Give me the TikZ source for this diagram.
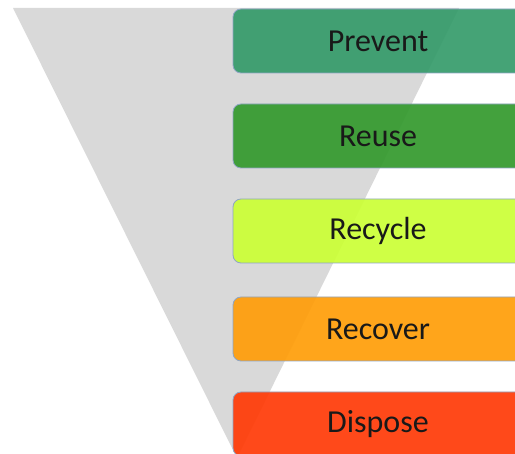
\documentclass[tikz,border=0pt]{standalone}
\usepackage{fontspec}
\setmainfont{Carlito}
\definecolor{preventgreen}{HTML}{359B6A}
\definecolor{reusegreen}{HTML}{33992D}
\definecolor{recyclelime}{HTML}{CBFF35}
\definecolor{recoverorange}{HTML}{FF9D08}
\definecolor{disposered}{HTML}{FF3A06}
\definecolor{boxedge}{HTML}{8FA5C4}
\definecolor{funnelgray}{HTML}{D9D9D9}
\tikzset{
  stage/.style={draw=boxedge, line width=0.8pt, rounded corners=8pt,
    fill opacity=0.92, text opacity=1,
    minimum width=290pt, minimum height=64pt, inner sep=0pt,
    font=\fontsize{32}{36}\selectfont, text=black!90},
}
\begin{document}
\begin{tikzpicture}[x=1pt,y=-1pt]
        \useasboundingbox (0,0) rectangle (515,454);
        \clip (0,0) rectangle (515,454);
        % funnel behind the boxes
        \fill[funnelgray] (13,8) -- (459,8) -- (237,458) -- cycle;
        \node[stage, fill=preventgreen] (prevent) at (378,41) {Prevent};
        \node[stage, fill=reusegreen] (reuse) at (378,136) {Reuse};
        \node[stage, fill=recyclelime] (recycle) at (378,231) {Recycle};
        \node[stage, fill=recoverorange] (recover) at (378,329) {Recover};
        \node[stage, fill=disposered] (dispose) at (378,424) {Dispose};
\end{tikzpicture}
\end{document}
